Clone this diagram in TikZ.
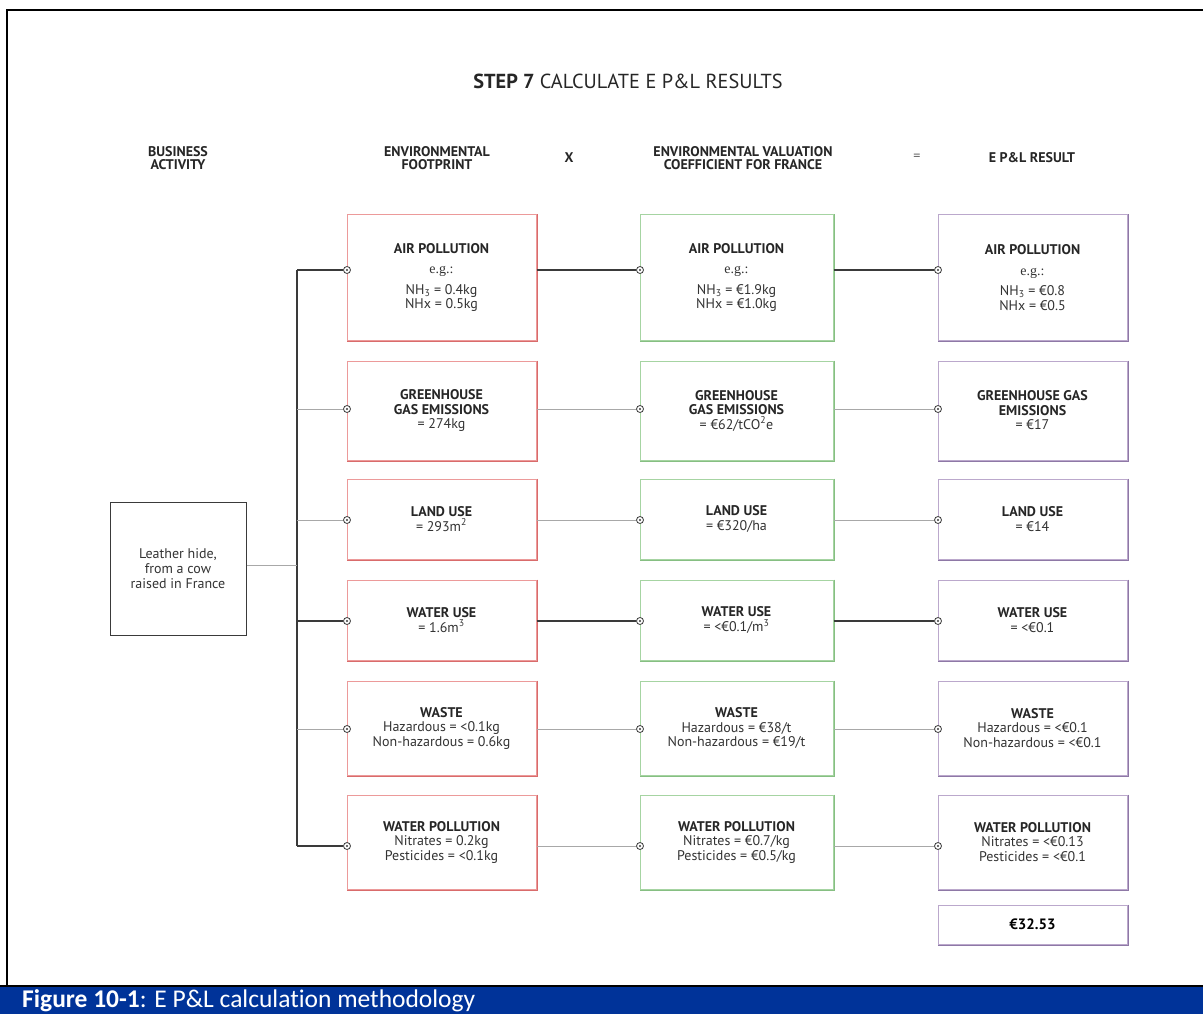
\documentclass[tikz,border=0pt]{standalone}
\usepackage{fontspec}
\setmainfont{PT Sans}
\newfontfamily\capfont[Ligatures=NoCommon]{Carlito}
\newfontfamily\egfont{Liberation Serif}
\definecolor{redb}{HTML}{EC9A9A}
\definecolor{redsh}{HTML}{D96B6B}
\definecolor{greenb}{HTML}{A6D4A2}
\definecolor{greensh}{HTML}{86BF82}
\definecolor{purpb}{HTML}{BBA8CC}
\definecolor{purpsh}{HTML}{8E78A6}
\definecolor{capblue}{HTML}{003399}
\definecolor{darkline}{HTML}{3A3A3A}
\definecolor{greyline}{HTML}{A8A8A8}
\definecolor{txt}{HTML}{333333}
\tikzset{
  valbox/.style={line width=1pt, align=center, inner sep=0pt, text=txt,
    font=\fontsize{14}{14.5}\selectfont, minimum width=#1},
  redbox/.style={valbox=189pt, draw=redb},
  greenbox/.style={valbox=193pt, draw=greenb},
  purpbox/.style={valbox=189pt, draw=purpb},
  dotn/.style={circle, draw=darkline, fill=white, line width=0.8pt, inner sep=0pt, minimum size=7pt,
    path picture={\fill[darkline] (path picture bounding box.center) circle (1.1pt);}},
  colhead/.style={align=center, font=\bfseries\fontsize{14}{13.5}\selectfont, text=black!85},
  dk/.style={draw=darkline, line width=1.2pt},
  gy/.style={draw=greyline, line width=1pt},
}
\newcommand{\hd}[1]{\textbf{\color{black!85}#1}}
\newcommand{\eg}{{\egfont e.g.:}}
\begin{document}
\begin{tikzpicture}[x=1pt,y=-1pt]
\useasboundingbox (0,0) rectangle (1203,1014);
\fill[white] (0,0) rectangle (1203,1014);
% frame and caption
\draw[line width=2.5pt] (7,986) -- (7,10) -- (1203,10);
\fill[capblue] (0,987) rectangle (1203,1014);
\draw[line width=2.5pt] (0,986) -- (1203,986);
\node[anchor=base west, text=white, inner sep=0pt, font=\capfont\fontsize{25.5}{27}\selectfont] (caption) at (22,1007.5)
  {\textbf{Figure 10-1}: E P\&L calculation methodology};

% title and column headers
\node[font=\fontsize{20.3}{22}\selectfont, text=black!85] (title) at (628,81) {\textbf{STEP 7} CALCULATE E P\&L RESULTS};
\node[colhead] (h1) at (178,158) {BUSINESS\\ACTIVITY};
\node[colhead] (h2) at (437,158) {ENVIRONMENTAL\\FOOTPRINT};
\node[colhead, font=\bfseries\fontsize{14}{14}\selectfont] (hx) at (569,158) {X};
\node[colhead] (h3) at (743,158) {ENVIRONMENTAL VALUATION\\COEFFICIENT FOR FRANCE};
\node[font=\fontsize{14}{14}\selectfont, text=black!60] (heq) at (917,157) {=};
\node[colhead] (h4) at (1032,158) {E P\&L RESULT};

% business activity
\node[draw=darkline, line width=1pt, minimum width=136pt, minimum height=133pt, align=center, text=txt,
  font=\fontsize{14}{15}\selectfont, inner sep=0pt] (leather) at (178,568.5)
  {Leather hide,\\from a cow\\raised in France};

% red column
\node[redbox, minimum height=125pt] (rA) at (441.5,277.5) {\hd{AIR POLLUTION}\\[6pt]\eg\\[6pt]NH\textsubscript{3} = 0.4kg\\NHx = 0.5kg};
\node[redbox, minimum height=99pt] (rG) at (441.5,410.5) {\hd{GREENHOUSE}\\\hd{GAS EMISSIONS}\\= 274kg};
\node[redbox, minimum height=80pt] (rL) at (441.5,519) {\hd{LAND USE}\\= 293m\textsuperscript{2}};
\node[redbox, minimum height=80pt] (rW) at (441.5,620) {\hd{WATER USE}\\= 1.6m\textsuperscript{3}};
\node[redbox, minimum height=94pt] (rS) at (441.5,728) {\hd{WASTE}\\Hazardous = <0.1kg\\Non-hazardous = 0.6kg};
\node[redbox, minimum height=94pt] (rP) at (441.5,842) {\hd{WATER POLLUTION}\\Nitrates = 0.2kg\\Pesticides = <0.1kg};

% green column
\node[greenbox, minimum height=125pt] (gA) at (736.5,277.5) {\hd{AIR POLLUTION}\\[6pt]\eg\\[6pt]NH\textsubscript{3} = €1.9kg\\NHx = €1.0kg};
\node[greenbox, minimum height=99pt] (gG) at (736.5,410.5) {\hd{GREENHOUSE}\\\hd{GAS EMISSIONS}\\= €62/tCO\textsuperscript{2}e};
\node[greenbox, minimum height=80pt] (gL) at (736.5,519) {\hd{LAND USE}\\= €320/ha};
\node[greenbox, minimum height=80pt] (gW) at (736.5,620) {\hd{WATER USE}\\= <€0.1/m\textsuperscript{3}};
\node[greenbox, minimum height=94pt] (gS) at (736.5,728) {\hd{WASTE}\\Hazardous = €38/t\\Non-hazardous = €19/t};
\node[greenbox, minimum height=94pt] (gP) at (736.5,842) {\hd{WATER POLLUTION}\\Nitrates = €0.7/kg\\Pesticides = €0.5/kg};

% purple column
\node[purpbox, minimum height=125pt] (pA) at (1032.5,277.5) {\hd{AIR POLLUTION}\\[6pt]\eg\\[6pt]NH\textsubscript{3} = €0.8\\NHx = €0.5};
\node[purpbox, minimum height=99pt] (pG) at (1032.5,410.5) {\hd{GREENHOUSE GAS}\\\hd{EMISSIONS}\\= €17};
\node[purpbox, minimum height=80pt] (pL) at (1032.5,519) {\hd{LAND USE}\\= €14};
\node[purpbox, minimum height=80pt] (pW) at (1032.5,620) {\hd{WATER USE}\\= <€0.1};
\node[purpbox, minimum height=94pt] (pS) at (1032.5,728) {\hd{WASTE}\\Hazardous = <€0.1\\Non-hazardous = <€0.1};
\node[purpbox, minimum height=94pt] (pP) at (1032.5,842) {\hd{WATER POLLUTION}\\Nitrates = <€0.13\\Pesticides = <€0.1};
\node[purpbox, minimum height=39pt, font=\bfseries\fontsize{15}{16}\selectfont] (pT) at (1032.5,924.5) {\color{black}€32.53};

% box shadows
\foreach \n in {rA,rG,rL,rW,rS,rP}
  \draw[redsh, line width=1.3pt] ([xshift=0.8pt]\n.north east) -- ([xshift=0.8pt,yshift=-0.8pt]\n.south east) -- ([yshift=-0.8pt]\n.south west);
\foreach \n in {gA,gG,gL,gW,gS,gP}
  \draw[greensh, line width=1.3pt] ([xshift=0.8pt]\n.north east) -- ([xshift=0.8pt,yshift=-0.8pt]\n.south east) -- ([yshift=-0.8pt]\n.south west);
\foreach \n in {pA,pG,pL,pW,pS,pP,pT}
  \draw[purpsh, line width=1.3pt] ([xshift=0.8pt]\n.north east) -- ([xshift=0.8pt,yshift=-0.8pt]\n.south east) -- ([yshift=-0.8pt]\n.south west);

% trunk coordinates
\coordinate (tA) at (297,270);
\coordinate (tG) at (297,409);
\coordinate (tL) at (297,520);
\coordinate (tM) at (297,565);
\coordinate (tW) at (297,621);
\coordinate (tS) at (297,729);
\coordinate (tP) at (297,846);

% dots
\foreach \r/\y in {A/270,G/409,L/520,W/621,S/729,P/846} {
  \node[dotn] (rd\r) at (347,\y) {};
  \node[dotn] (gd\r) at (640,\y) {};
  \node[dotn] (pd\r) at (938,\y) {};
}

% connectors
\draw[dk] (tA) -- (tP);
\draw[gy] (leather.east |- tM) -- (tM);
\draw[dk] (tA) -- (rdA);
\draw[gy] (tG) -- (rdG);
\draw[gy] (tL) -- (rdL);
\draw[dk] (tW) -- (rdW);
\draw[gy] (tS) -- (rdS);
\draw[dk] (tP) -- (rdP);

\draw[dk] (rA.east |- gdA) -- (gdA);
\draw[gy] (rG.east |- gdG) -- (gdG);
\draw[gy] (rL.east |- gdL) -- (gdL);
\draw[dk] (rW.east |- gdW) -- (gdW);
\draw[gy] (rS.east |- gdS) -- (gdS);
\draw[gy] (rP.east |- gdP) -- (gdP);

\draw[dk] (gA.east |- pdA) -- (pdA);
\draw[gy] (gG.east |- pdG) -- (pdG);
\draw[gy] (gL.east |- pdL) -- (pdL);
\draw[dk] (gW.east |- pdW) -- (pdW);
\draw[gy] (gS.east |- pdS) -- (pdS);
\draw[gy] (gP.east |- pdP) -- (pdP);
\end{tikzpicture}
\end{document}
